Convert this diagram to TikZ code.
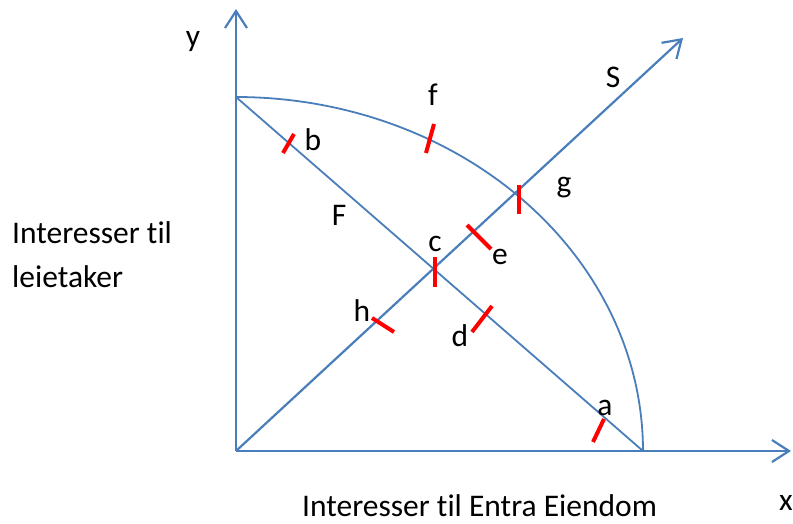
\documentclass[tikz,border=0pt]{standalone}
\usepackage{fontspec}
\setmainfont[Ligatures={NoCommon}]{Carlito}
\usetikzlibrary{arrows.meta}
\definecolor{axisBlue}{HTML}{4A7EBB}
\definecolor{markRed}{HTML}{FF0000}

\begin{document}
\begin{tikzpicture}[
  x=1pt, y=-1pt,
  font=\fontsize{31.5}{38}\selectfont,
  axis/.style={draw=axisBlue, line width=2.2pt, -{Straight Barb[length=17pt,width=22pt]}},
  guide/.style={draw=axisBlue, line width=1.8pt},
  redmark/.style={draw=markRed, line width=4pt},
  lbl/.style={inner sep=0pt}
]
\useasboundingbox (0,0) rectangle (793,524);
% axes and the two diagonals
\coordinate (O) at (236,451);
\coordinate (ytip) at (236,9);
\coordinate (xtip) at (791,451);
\coordinate (stip) at (683,38);
\coordinate (top) at (236,97);
\coordinate (right) at (643,451);
\draw[axis] (O) -- (ytip);
\draw[axis] (O) -- (xtip);
\draw[axis] (O) -- (stip);
\draw[guide] (top) -- (right);
\draw[guide] plot[domain=0:90, samples=90, smooth] ({236+407*cos(\x)}, {451-354*sin(\x)});

% red marks
\foreach \ax/\ay/\bx/\by in {593/442/604/419, 283/153/294/134, 426/153/434/124,
  519/185/519/214, 435/257/435/287, 467/225/491/249, 372/318/394/332, 472/332/492/306}
  \draw[redmark] (\ax,\ay) -- (\bx,\by);

% letters
\node[lbl] (ylab) at (193,42) {y};
\node[lbl] (xlab) at (786,503) {x};
\node[lbl] (slab) at (613,77) {S};
\node[lbl] (flab) at (433,95) {f};
\node[lbl] (blab) at (313,140) {b};
\node[lbl] (glab) at (564,188) {g};
\node[lbl] (Flab) at (339,215) {F};
\node[lbl] (clab) at (435,244) {c};
\node[lbl] (elab) at (500,257) {e};
\node[lbl] (hlab) at (362,311) {h};
\node[lbl] (dlab) at (460,336) {d};
\node[lbl] (alab) at (605,408) {a};

% axis titles
\node[lbl, anchor=base west] (lefttop) at (12,243) {Interesser til};
\node[lbl, anchor=base west] (leftbot) at (12,287) {leietaker};
\node[lbl, anchor=base west] (bottom) at (302,516) {Interesser til Entra Eiendom};
\end{tikzpicture}
\end{document}
